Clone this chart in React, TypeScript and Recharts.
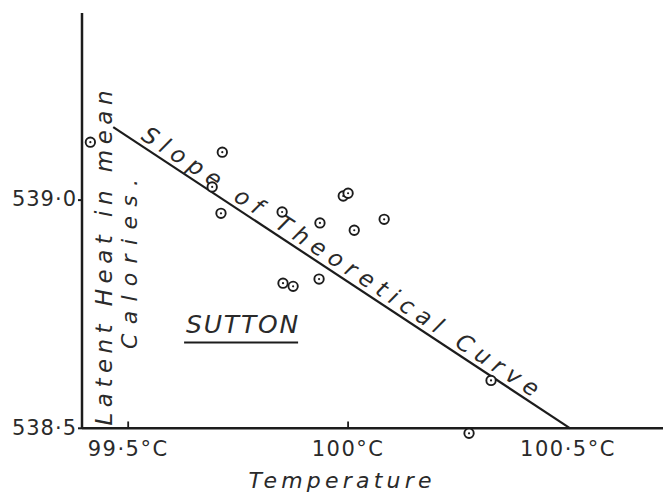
import {
  ReferenceDot,
  ReferenceLine,
  Scatter,
  ScatterChart,
  XAxis,
  YAxis,
} from "recharts";

// Sutton's observations: boiling temperature (°C) vs latent heat (mean calories)
const tempC = [
  99.414, 99.714, 99.691, 99.711, 99.85, 99.936, 99.989, 100.0, 100.014, 100.082, 99.934,
  99.852, 99.875, 100.325, 100.275,
];
const latentHeat = [
  539.127, 539.105, 539.029, 538.971, 538.974, 538.95, 539.009, 539.015, 538.934, 538.958,
  538.827, 538.818, 538.811, 538.605, 538.489,
];

// slope of the theoretical curve
const curveTemp = [99.466, 100.505];
const curveHeat = [539.16, 538.5];

const tempTicks = [99.5, 100, 100.5];
const tempTickLabels = ["99·5°C", "100°C", "100·5°C"];
const tempMarks = [99.5, 100];
const heatTicks = [538.5, 539.0];
const heatTickLabels = ["538·5", "539·0"];

const tempDomain: [number, number] = [99.395, 100.716];
const heatDomain: [number, number] = [538.47, 539.41];
const axisHeat = 538.5;

const ink = "#1c1c1c";
const textInk = "#2a2a2a";
const font = "'DejaVu Sans', Verdana, sans-serif";

const points = tempC.map((t, i) => ({ t, h: latentHeat[i] }));

function Ring(props: any) {
  const { cx, cy } = props;
  if (cx == null || cy == null) return null;
  return (
    <g>
      <circle cx={cx} cy={cy} r={4.7} fill="#fff" stroke={ink} strokeWidth={1.9} />
      <circle cx={cx} cy={cy} r={1.1} fill={ink} />
    </g>
  );
}

function TempTick(props: any) {
  const { x, y, payload } = props;
  const label = tempTickLabels[tempTicks.indexOf(payload.value)];
  return (
    <text
      x={x}
      y={y}
      dy="0.68em"
      textAnchor="middle"
      fontFamily={font}
      fontSize={21}
      letterSpacing={1.5}
      fill={textInk}
    >
      {label}
    </text>
  );
}

function HeatTick(props: any) {
  const { x, y, payload } = props;
  const label = heatTickLabels[heatTicks.indexOf(payload.value)];
  return (
    <text
      x={x}
      y={y}
      dy="0.3em"
      textAnchor="end"
      fontFamily={font}
      fontSize={21}
      letterSpacing={1}
      fill={textInk}
    >
      {label}
    </text>
  );
}

function HeatAxisLabel(props: any) {
  const vb = props.viewBox ?? props;
  const x1 = vb.x + vb.width + 30;
  const x2 = vb.x + vb.width + 55;
  return (
    <g fontFamily={font} fontStyle="italic" fill={textInk}>
      <text
        transform={`rotate(-90 ${x1} 258)`}
        x={x1}
        y={258}
        textAnchor="middle"
        fontSize={23}
        textLength={335}
        lengthAdjust="spacing"
      >
        Latent Heat in mean
      </text>
      <text
        transform={`rotate(-90 ${x2} 264)`}
        x={x2}
        y={264}
        textAnchor="middle"
        fontSize={22}
        textLength={170}
        lengthAdjust="spacing"
      >
        Calories.
      </text>
    </g>
  );
}

function TempAxisLabel(props: any) {
  const vb = props.viewBox ?? props;
  return (
    <text
      x={vb.x + 258}
      y={vb.y + 46}
      textAnchor="middle"
      fontFamily={font}
      fontStyle="italic"
      fontSize={22}
      textLength={183}
      lengthAdjust="spacing"
      fill={textInk}
    >
      Temperature
    </text>
  );
}

function SlopeLabel(props: any) {
  const vb = props.viewBox;
  if (!vb) return null;
  const a = Math.atan2(vb.height, vb.width);
  const t = 0.482;
  const off = 5;
  const bx = vb.x + vb.width * t + Math.sin(a) * off;
  const by = vb.y + vb.height * t - Math.cos(a) * off;
  const deg = (a * 180) / Math.PI;
  return (
    <text
      transform={`rotate(${deg} ${bx} ${by})`}
      x={bx}
      y={by}
      textAnchor="middle"
      fontFamily={font}
      fontStyle="italic"
      fontSize={23}
      textLength={470}
      lengthAdjust="spacing"
      fill={textInk}
    >
      Slope of Theoretical Curve
    </text>
  );
}

function SuttonLabel(props: any) {
  const vb = props.viewBox;
  if (!vb) return null;
  return (
    <g>
      <text
        x={vb.x}
        y={vb.y}
        textAnchor="middle"
        fontFamily={font}
        fontStyle="italic"
        fontSize={25}
        textLength={112}
        lengthAdjust="spacing"
        fill={textInk}
      >
        SUTTON
      </text>
      <line x1={vb.x - 58} x2={vb.x + 56} y1={vb.y + 9} y2={vb.y + 9} stroke={ink} strokeWidth={2} />
    </g>
  );
}

export default function App() {
  return (
    <div style={{ position: "absolute", left: 0, top: 0, width: 663, height: 497, background: "#fff" }}>
      <ScatterChart width={663} height={497} margin={{ top: 13, right: 0, bottom: 0, left: 0 }}>
        <XAxis
          type="number"
          dataKey="t"
          domain={tempDomain}
          ticks={tempTicks}
          interval={0}
          axisLine={false}
          tickLine={false}
          tickSize={0}
          tickMargin={0}
          height={55}
          tick={<TempTick />}
          label={TempAxisLabel}
        />
        <YAxis
          type="number"
          dataKey="h"
          domain={heatDomain}
          ticks={heatTicks}
          interval={0}
          axisLine={false}
          tickLine={{ stroke: ink, strokeWidth: 2 }}
          tickSize={4}
          tickMargin={1}
          width={82}
          tick={<HeatTick />}
          label={HeatAxisLabel}
        />
        <ReferenceLine
          segment={[
            { x: tempDomain[0], y: axisHeat },
            { x: tempDomain[0], y: heatDomain[1] },
          ]}
          stroke={ink}
          strokeWidth={2.5}
          ifOverflow="visible"
        />
        <ReferenceLine
          segment={[
            { x: tempDomain[0], y: axisHeat },
            { x: tempDomain[1], y: axisHeat },
          ]}
          stroke={ink}
          strokeWidth={2.5}
          ifOverflow="visible"
        />
        {tempMarks.map((t) => (
          <ReferenceLine
            key={t}
            segment={[
              { x: t, y: axisHeat },
              { x: t, y: axisHeat + 0.015 },
            ]}
            stroke={ink}
            strokeWidth={1.8}
            ifOverflow="visible"
          />
        ))}
        <ReferenceLine
          segment={[
            { x: curveTemp[0], y: curveHeat[0] },
            { x: curveTemp[1], y: curveHeat[1] },
          ]}
          stroke={ink}
          strokeWidth={2.2}
          ifOverflow="visible"
          label={SlopeLabel}
        />
        <ReferenceDot
          x={99.759}
          y={538.708}
          r={0}
          fill="none"
          stroke="none"
          ifOverflow="visible"
          label={SuttonLabel}
        />
        <Scatter data={points} shape={Ring} isAnimationActive={false} />
      </ScatterChart>
    </div>
  );
}
